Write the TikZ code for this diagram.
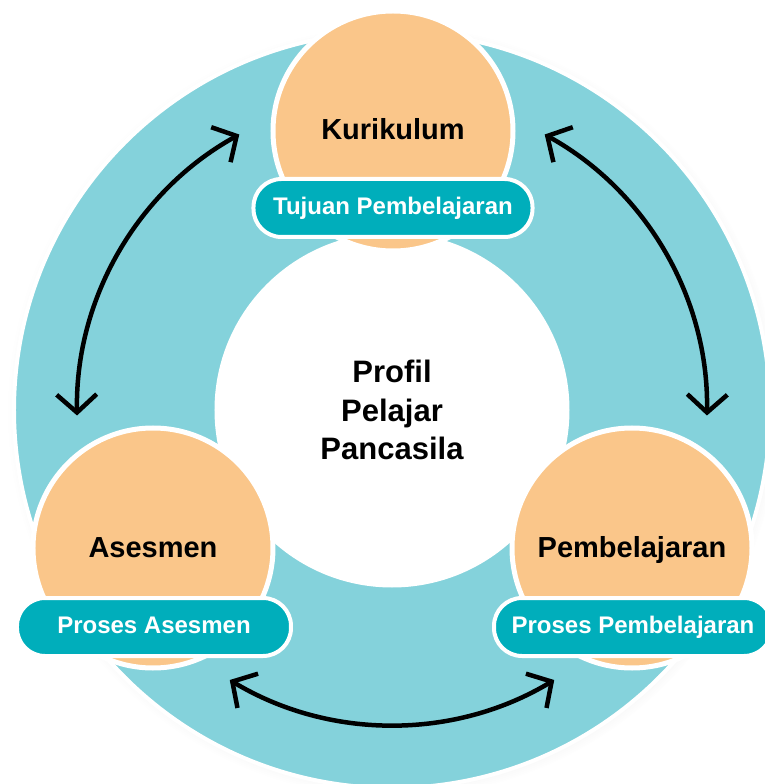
\documentclass[tikz,border=0pt]{standalone}
\usepackage{fontspec}
\setmainfont{Liberation Sans}
\usepackage{tikz}
\usetikzlibrary{arrows.meta, shadows}
\definecolor{ringteal}{HTML}{84D2DB}
\definecolor{peach}{HTML}{FAC68A}
\definecolor{pillteal}{HTML}{00AEBB}
\tikzstyle{ring} = [circle, minimum size=756pt, inner sep=0pt,
    fill=ringteal, draw=white, line width=4pt,
    circular drop shadow={shadow scale=1.02, opacity=0.25}]
\tikzstyle{core} = [circle, minimum size=352pt, inner sep=0pt, align=center,
    fill=white, draw=white, line width=3pt,
    font=\fontsize{31}{38.5}\selectfont\bfseries]
\tikzstyle{topic} = [circle, minimum size=240pt, inner sep=0pt,
    text height=18pt, text depth=0pt, fill=peach, draw=white, line width=5pt,
    font=\fontsize{29}{35}\selectfont\bfseries]
\tikzstyle{pill} = [rectangle, rounded corners=28pt, minimum height=58pt, inner sep=0pt,
    text height=13pt, text depth=0pt, fill=pillteal, draw=white, line width=4pt,
    text=white, font=\fontsize{24}{28}\selectfont\bfseries]
\tikzstyle{arrow} = [line width=4.5pt, <->, >={Straight Barb[length=18pt,width=40pt]}]

\begin{document}
\begin{tikzpicture}[x=1pt, y=1pt]
                \useasboundingbox (-392,-374) rectangle (372,410);
                \node (cycle) [ring] at (0,0) {};
                \node (profil) [core] at (0,0) {Profil\\Pelajar\\Pancasila};
                % arrow ends on the ring
                \coordinate (kurL) at (119:315);
                \coordinate (aseT) at (181:315);
                \coordinate (kurR) at (61:315);
                \coordinate (pemT) at (-1:315);
                \coordinate (aseB) at (239:315);
                \coordinate (pemB) at (301:315);
                \draw [arrow] (kurL) to[bend right=31, looseness=0.92] (aseT);
                \draw [arrow] (pemT) to[bend right=31, looseness=0.92] (kurR);
                \draw [arrow] (aseB) to[bend right=31, looseness=0.92] (pemB);
                % the three parts
                \node (kurikulum) [topic] at (1,279) {Kurikulum};
                \node (asesmen) [topic] at (-239,-138) {Asesmen};
                \node (pembelajaran) [topic] at (240,-138) {Pembelajaran};
                \node (tujuan) [pill, minimum width=279pt, node distance=77pt, below of=kurikulum] {Tujuan Pembelajaran};
                \node (prosesAse) [pill, minimum width=274pt, node distance=79pt, below of=asesmen, xshift=1pt] {Proses Asesmen};
                \node (prosesPem) [pill, minimum width=278pt, node distance=79pt, below of=pembelajaran, xshift=1pt] {Proses Pembelajaran};
            \end{tikzpicture}
\end{document}
